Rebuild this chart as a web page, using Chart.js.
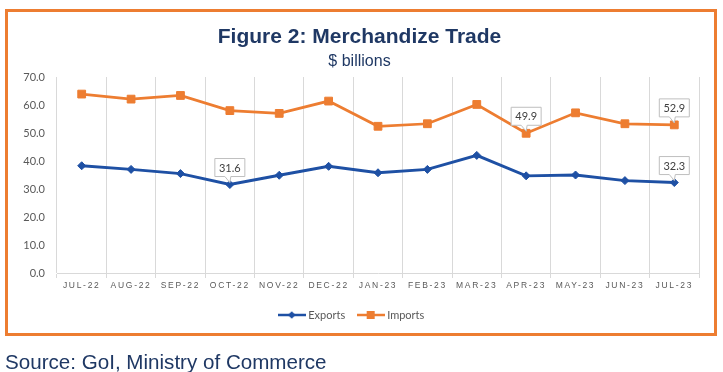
<!DOCTYPE html>
<html>
<head>
<meta charset="utf-8">
<script src="https://cdn.jsdelivr.net/npm/chart.js@4.4.1/dist/chart.umd.min.js"></script>
<style>
  html, body { margin: 0; padding: 0; background: #ffffff; }
  #wrap { position: relative; width: 723px; height: 372px; overflow: hidden; }
  #c { position: absolute; left: 0; top: 0; }
  #frame { position: absolute; left: 5px; top: 9px; width: 712px; height: 327px; box-sizing: border-box;
           border: 3px solid #ED7D31; pointer-events: none; }
  #source { position: absolute; left: 5px; top: 350.5px; font-family: "Liberation Sans", Arial, sans-serif;
            font-size: 20.6px; line-height: 21px; color: #1F3864; white-space: nowrap; }
</style>
</head>
<body>
<div id="wrap">
  <canvas id="c" width="723" height="372"></canvas>
  <div id="frame"></div>
  <div id="source">Source: GoI, Ministry of Commerce</div>
</div>
<script>
// ---- data ----
const months = ['JUL-22','AUG-22','SEP-22','OCT-22','NOV-22','DEC-22','JAN-23','FEB-23','MAR-23','APR-23','MAY-23','JUN-23','JUL-23'];
const exportsData = [38.3, 37.0, 35.5, 31.6, 34.9, 38.1, 35.8, 37.0, 42.0, 34.7, 35.0, 33.0, 32.3];
const importsData = [63.9, 62.1, 63.4, 58.0, 57.0, 61.4, 52.4, 53.3, 60.2, 49.9, 57.2, 53.3, 52.9];
const yTicks = [0, 10, 20, 30, 40, 50, 60, 70];
// which points carry a callout label: [datasetIndex, pointIndex]
const calloutPoints = [[0, 3], [0, 12], [1, 9], [1, 12]];

const BLUE = '#1E50A4';
const ORANGE = '#ED7D31';
const GRID = '#D9D9D9';
const TEXT = '#595959';
const NAVY = '#1F3864';

function legendImg(color, shape) {
  const c = document.createElement('canvas');
  c.width = 28; c.height = 10;
  const g = c.getContext('2d');
  g.strokeStyle = color; g.lineWidth = 2.5;
  g.beginPath(); g.moveTo(0, 5); g.lineTo(28, 5); g.stroke();
  g.fillStyle = color;
  if (shape === 'diamond') {
    g.beginPath(); g.moveTo(14, 1.2); g.lineTo(17.8, 5); g.lineTo(14, 8.8); g.lineTo(10.2, 5); g.closePath(); g.fill();
  } else {
    g.fillRect(10, 1, 8, 8);
  }
  return c;
}
const legendImgs = [legendImg(BLUE, 'diamond'), legendImg(ORANGE, 'square')];

const letterSpacingPlugin = {
  id: 'xLetterSpacing',
  beforeDraw(chart) {
    const s = chart.scales.x;
    if (s && !s._lsPatched) {
      const orig = s.drawLabels;
      s.drawLabels = function (area) {
        const ctx = this.ctx;
        ctx.save();
        ctx.letterSpacing = '1.7px';
        orig.call(this, area);
        ctx.restore();
      };
      s._lsPatched = true;
    }
  }
};

const legendShiftPlugin = {
  id: 'legendShift',
  afterLayout(chart) {
    if (chart.legend) { chart.legend.left -= 7; chart.legend.right -= 7; }
  }
};

const calloutPlugin = {
  id: 'callouts',
  afterDatasetsDraw(chart) {
    const ctx = chart.ctx;
    ctx.save();
    ctx.font = '11px Lato, "Liberation Sans", sans-serif';
    ctx.textAlign = 'center';
    ctx.textBaseline = 'middle';
    calloutPoints.forEach(([di, pi]) => {
      const p = chart.getDatasetMeta(di).data[pi];
      const value = chart.data.datasets[di].data[pi];
      const txt = value.toFixed(1);
      const w = 30, h = 18, gap = 8;
      let cx = p.x;
      if (cx + w / 2 > chart.chartArea.right) cx = chart.chartArea.right - w / 2;
      const left = cx - w / 2, right = cx + w / 2;
      const bottom = p.y - gap, top = bottom - h;
      let x1 = Math.max(p.x - 5, left + 1);
      let x2 = x1 + 6;
      ctx.beginPath();
      ctx.moveTo(left, top);
      ctx.lineTo(right, top);
      ctx.lineTo(right, bottom);
      ctx.lineTo(x2, bottom);
      ctx.lineTo(p.x, p.y - 2);
      ctx.lineTo(x1, bottom);
      ctx.lineTo(left, bottom);
      ctx.closePath();
      ctx.fillStyle = '#ffffff';
      ctx.fill();
      ctx.strokeStyle = '#BFBFBF';
      ctx.lineWidth = 1;
      ctx.stroke();
      ctx.fillStyle = '#404040';
      ctx.fillText(txt, cx, (top + bottom) / 2 + 0.5);
    });
    ctx.restore();
  }
};

new Chart(document.getElementById('c'), {
  type: 'line',
  data: {
    labels: months,
    datasets: [
      {
        label: 'Exports', data: exportsData,
        borderColor: BLUE, backgroundColor: BLUE, borderWidth: 2.9,
        pointStyle: 'rectRot', pointRadius: 4, pointBorderWidth: 1,
        pointBackgroundColor: BLUE, pointBorderColor: BLUE, tension: 0
      },
      {
        label: 'Imports', data: importsData,
        borderColor: ORANGE, backgroundColor: ORANGE, borderWidth: 2.75,
        pointStyle: 'rect', pointRadius: 5.5, pointBorderWidth: 1,
        pointBackgroundColor: ORANGE, pointBorderColor: ORANGE, tension: 0
      }
    ]
  },
  options: {
    responsive: false,
    animation: false,
    devicePixelRatio: 1,
    layout: { padding: { left: 20, right: 24, top: 0, bottom: 41.5 } },
    scales: {
      x: {
        offset: true,
        grid: { display: true, offset: true, color: GRID, lineWidth: 1, drawTicks: true, tickLength: 5, tickColor: GRID },
        border: { display: true, color: GRID, width: 1 },
        ticks: {
          color: TEXT, padding: 3, autoSkip: false, maxRotation: 0, minRotation: 0,
          font: { family: '"Liberation Sans", Arial, sans-serif', size: 8.5 }
        },
        afterFit(s) { s.height = 22; }
      },
      y: {
        min: 0, max: 70,
        afterBuildTicks(s) { s.ticks = yTicks.map(v => ({ value: v })); },
        grid: { display: false, drawTicks: false },
        border: { display: false },
        ticks: {
          color: TEXT, padding: 12,
          font: { family: 'Lato, "Liberation Sans", sans-serif', size: 11 },
          callback: v => Number(v).toFixed(1)
        },
        afterFit(s) { s.width = 37; }
      }
    },
    plugins: {
      title: {
        display: true, text: 'Figure 2: Merchandize Trade', color: NAVY,
        font: { family: '"Liberation Sans", Arial, sans-serif', size: 21, weight: 'bold' },
        padding: { top: 25, bottom: 0 }
      },
      subtitle: {
        display: true, text: '$ billions', color: NAVY,
        font: { family: '"Liberation Sans", Arial, sans-serif', size: 16, weight: 'normal' },
        padding: { top: 2, bottom: 5.6 }
      },
      legend: {
        display: true, position: 'bottom',
        labels: {
          usePointStyle: true, pointStyleWidth: 22, padding: 14.5, color: TEXT,
          font: { family: 'Lato, "Liberation Sans", sans-serif', size: 11 },
          generateLabels(chart) {
            const items = Chart.defaults.plugins.legend.labels.generateLabels(chart);
            items.forEach((it, i) => { it.pointStyle = legendImgs[i]; it.fontColor = TEXT; });
            return items;
          }
        }
      },
      tooltip: { enabled: false }
    }
  },
  plugins: [letterSpacingPlugin, legendShiftPlugin, calloutPlugin]
});
</script>
</body>
</html>
